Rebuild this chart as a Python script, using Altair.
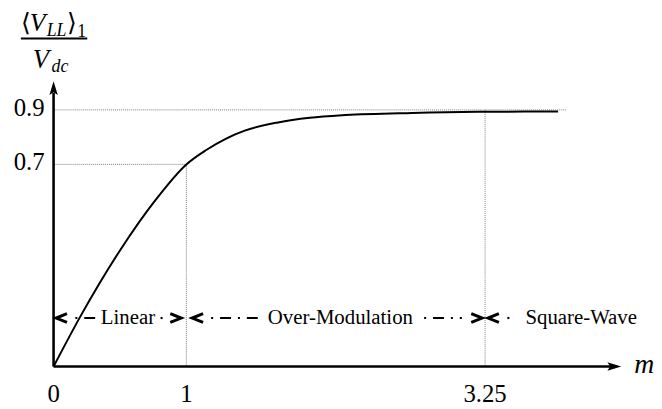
import altair as alt
import pandas as pd

# curve data (modulation index m vs normalised fundamental line voltage)
m_vals = [0, 0.2, 0.5, 0.77, 1.0, 1.15, 1.3, 1.44, 1.69, 1.93, 2.2, 2.7, 3.2, 3.8]
v_vals = [0, 0.172, 0.402, 0.578, 0.7, 0.753, 0.795, 0.824, 0.854, 0.871, 0.881, 0.889, 0.893, 0.894]

x_ticks = [0, 1, 3.25]
x_tick_labels = ["0", "1", "3.25"]
y_ticks = [0.7, 0.9]
y_tick_labels = ["0.7", "0.9"]

region_names = ["Linear", "Over-Modulation", "Square-Wave"]
region_centers = [0.56, 2.16, 3.974]
region_level = 0.168

SERIF = "Liberation Serif, Times New Roman, serif"
X_MAX = 4.276
W, H = 573, 288

xs = alt.Scale(domain=[0, X_MAX], range=[0, W], nice=False, zero=False)
ys = alt.Scale(domain=[0, 0.7, 0.9, 1.0], range=[H, 84, 29, 0], nice=False, zero=False)

def X(f="x"):
    return alt.X(f"{f}:Q", scale=xs, axis=None)

def Y(f="y"):
    return alt.Y(f"{f}:Q", scale=ys, axis=None)

# dotted guide lines
guides = pd.DataFrame({
    "x": [0, 0, 1, 3.25],
    "x2": [3.866, 1, 1, 3.25],
    "y": [0.9, 0.7, 0.7, 0.9],
    "y2": [0.9, 0.7, 0, 0],
})
guide_layer = alt.Chart(guides).mark_rule(color="#808080", strokeWidth=1, strokeDash=[1, 1]).encode(
    x=X(), x2="x2:Q", y=Y(), y2="y2:Q")

curve = pd.DataFrame({"x": m_vals, "y": v_vals})
curve_layer = alt.Chart(curve).mark_line(color="black", strokeWidth=2, interpolate="monotone").encode(
    x=X(), y=Y())

# axes
axes = pd.DataFrame({"x": [0, 0], "x2": [4.2, 0], "y": [0, 0], "y2": [0, 0.96]})
axes_layer = alt.Chart(axes).mark_rule(color="black", strokeWidth=2.6).encode(
    x=X(), x2="x2:Q", y=Y(), y2="y2:Q")

up_arrow = alt.Chart(pd.DataFrame({"x": [0], "y": [1.0]})).mark_point(
    shape="M0,0L0.45,1.5L0,1.2L-0.45,1.5Z", size=350, filled=True, color="black", opacity=1,
    strokeWidth=0).encode(x=X(), y=Y())
right_arrow = alt.Chart(pd.DataFrame({"x": [X_MAX], "y": [0]})).mark_point(
    shape="M0,0L-1.5,-0.45L-1.2,0L-1.5,0.45Z", size=350, filled=True, color="black", opacity=1,
    strokeWidth=0).encode(x=X(), y=Y())

# region dash-dot segments
seg = pd.DataFrame({
    "x": [0.164, 0.806, 1.187, 2.791, 3.418],
    "x2": [0.321, 0.821, 1.552, 3.075, 3.433],
    "y": [region_level] * 5,
})
seg_layer = alt.Chart(seg).mark_rule(color="black", strokeWidth=2.2, strokeDash=[2, 7, 11, 7]).encode(
    x=X(), x2="x2:Q", y=Y())

left_chev = alt.Chart(pd.DataFrame({"x": [0.06, 1.085, 3.313], "y": [region_level] * 3})).mark_point(
    shape="M1,-0.8L-1,0L1,0.8", size=121, filled=False, color="black", strokeWidth=3, opacity=1).encode(
    x=X(), y=Y())
right_chev = alt.Chart(pd.DataFrame({"x": [0.92, 3.187], "y": [region_level] * 2})).mark_point(
    shape="M-1,-0.8L1,0L-1,0.8", size=121, filled=False, color="black", strokeWidth=3, opacity=1).encode(
    x=X(), y=Y())

region_text = alt.Chart(pd.DataFrame({"x": region_centers, "y": [region_level] * 3, "t": region_names})).mark_text(
    font=SERIF, fontSize=21, baseline="middle", align="center", color="black").encode(
    x=X(), y=Y(), text="t:N")

xt = alt.Chart(pd.DataFrame({"x": x_ticks, "y": [0] * 3, "t": x_tick_labels})).mark_text(
    font=SERIF, fontSize=25, baseline="middle", align="center", dy=28, color="black").encode(
    x=X(), y=Y(), text="t:N")
yt = alt.Chart(pd.DataFrame({"x": [0, 0], "y": y_ticks, "t": y_tick_labels})).mark_text(
    font=SERIF, fontSize=25, baseline="middle", align="right", dx=-9, dy=-2, color="black").encode(
    x=X(), y=Y(), text="t:N")

m_label = alt.Chart(pd.DataFrame({"x": [X_MAX], "y": [0]})).mark_text(
    text="m", font=SERIF, fontStyle="italic", fontSize=28, align="left",
    baseline="alphabetic", dx=13, dy=7, color="black").encode(x=X(), y=Y())

def piece(txt, x, y, size, italic=True):
    kw = dict(text=txt, font=SERIF, fontSize=size, align="left",
              baseline="alphabetic", color="black")
    if italic:
        kw["fontStyle"] = "italic"
    return alt.Chart(pd.DataFrame({"a": [0]})).mark_text(**kw).encode(
        x=alt.value(x), y=alt.value(y))

title_parts = [
    piece("\u27e8", -33, -51, 25, italic=False),
    piece("V", -24, -51, 26),
    piece("LL", -7, -46, 18),
    piece("\u27e9", 14, -51, 25, italic=False),
    piece("1", 24, -45, 18, italic=False),
    piece("V", -21, -13, 27),
    piece("dc", -2, -9, 18),
]
frac_bar = alt.Chart(pd.DataFrame({"a": [0]})).mark_rule(color="black", strokeWidth=2).encode(
    x=alt.value(-33), x2=alt.value(34), y=alt.value(-43))

chart = alt.layer(
    guide_layer, curve_layer, axes_layer, up_arrow, right_arrow, seg_layer, left_chev, right_chev,
    region_text, xt, yt, m_label, frac_bar, *title_parts
).properties(
    width=W, height=H,
    background="white",
    autosize=alt.AutoSizeParams(type="none"),
    padding={"left": 46, "top": 72, "right": 33, "bottom": 40},
).configure_view(strokeWidth=0, stroke="transparent")

chart.save("out.html", embed_options={"renderer": "svg", "actions": False})
